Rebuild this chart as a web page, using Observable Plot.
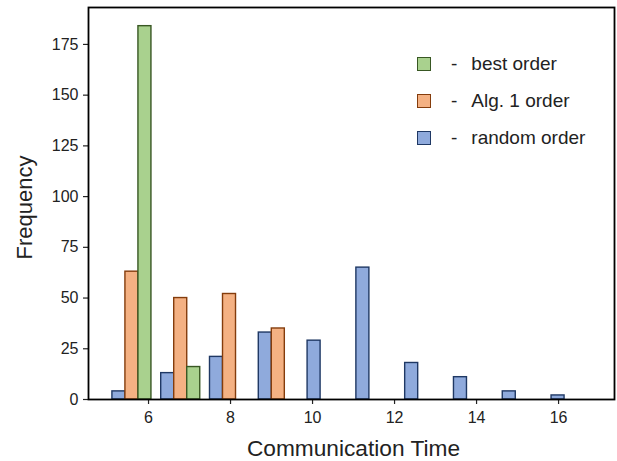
<!DOCTYPE html>
<html>
<head>
<meta charset="utf-8">
<script src="https://cdn.jsdelivr.net/npm/d3@7"></script>
<script src="https://cdn.jsdelivr.net/npm/@observablehq/plot@0.6"></script>
<style>
  html, body { margin: 0; padding: 0; background: #fff; }
  #wrap { position: relative; width: 617px; height: 461px; font-family: "Liberation Sans", Arial, sans-serif; }
  #legend { position: absolute; left: 417px; top: 45px; font-size: 19px; color: #222; }
  .row { display: flex; align-items: center; height: 37px; }
  .sw { width: 14px; height: 14px; border: 1.4px solid; box-sizing: border-box; margin-right: 20px; }
  .dash { margin-right: 14px; }
</style>
</head>
<body>
<div id="wrap"></div>
<script>
// Histogram bin edges (Communication Time)
const binEdges = [5.0, 6.19, 7.38, 8.57, 9.76, 10.95, 12.14, 13.33, 14.52, 15.71, 16.9];
// Frequencies per bin, one array per series (drawn in this order inside each bin)
const randomOrder = [4, 13, 21, 33, 29, 65, 18, 11, 4, 2];
const alg1Order   = [63, 50, 52, 35, 0, 0, 0, 0, 0, 0];
const bestOrder   = [184, 16, 0, 0, 0, 0, 0, 0, 0, 0];
const seriesNames = ["random order", "Alg. 1 order", "best order"];
const fills   = ["#8faadc", "#f4b183", "#a9d18e"];
const strokes = ["#1f3864", "#843c0c", "#385723"];
const xTicks = [6, 8, 10, 12, 14, 16];
const yTicks = [0, 25, 50, 75, 100, 125, 150, 175];

const seriesValues = [randomOrder, alg1Order, bestOrder];
const rows = [];
seriesValues.forEach((vals, k) => {
  vals.forEach((v, i) => {
    if (v <= 0) return;
    const lo = binEdges[i], bw = binEdges[i + 1] - binEdges[i];
    const w = bw * 0.8 / 3;
    const x1 = lo + bw * 0.1 + w * k;
    rows.push({series: seriesNames[k], k, x1, x2: x1 + w, count: v});
  });
});

const span = (binEdges[binEdges.length - 1] - binEdges[0]) - 0.2 * (binEdges[1] - binEdges[0]);
const left = binEdges[0] + 0.1 * (binEdges[1] - binEdges[0]);
const xDomain = [left - 0.05 * span, left + span + 0.05 * span];
const yMax = d3.max(seriesValues.flat()) * 1.05;

const font = '"Liberation Sans", Arial, sans-serif';
const chart = Plot.plot({
  width: 617,
  height: 461,
  marginLeft: 88,
  marginRight: 3,
  marginTop: 7,
  marginBottom: 62,
  style: {fontFamily: font, background: "#fff", color: "#222"},
  x: {domain: xDomain},
  y: {domain: [0, yMax]},
  color: {domain: seriesNames, range: fills},
  marks: [
    Plot.rect(rows, {
      x1: "x1", x2: "x2", y1: 0, y2: "count",
      fill: "series",
      stroke: d => strokes[d.k],
      strokeWidth: 1.4,
      inset: 0
    }),
    Plot.axisX(xTicks, {tickSize: 5, tickPadding: 7, fontSize: 16, label: null, stroke: "#222", strokeWidth: 1.2}),
    Plot.axisY(yTicks, {tickSize: 5, tickPadding: 5, fontSize: 16, label: null, stroke: "#222", strokeWidth: 1.2}),
    Plot.frame({stroke: "#000", strokeWidth: 1.8}),
    Plot.text(["Communication Time"], {frameAnchor: "bottom", dx: 2, dy: 56, fontSize: 22.7, fill: "#222"}),
    Plot.text(["Frequency"], {frameAnchor: "left", textAnchor: "middle", dx: -64, dy: 4, rotate: -90, fontSize: 22, fill: "#222"})
  ]
});
const wrap = document.getElementById("wrap");
wrap.appendChild(chart);

// Legend (reverse order, as in the reference)
const legend = document.createElement("div");
legend.id = "legend";
[2, 1, 0].forEach(k => {
  const row = document.createElement("div");
  row.className = "row";
  const sw = document.createElement("div");
  sw.className = "sw";
  sw.style.background = fills[k];
  sw.style.borderColor = strokes[k];
  const dash = document.createElement("span");
  dash.className = "dash";
  dash.textContent = "-";
  const t = document.createElement("span");
  t.textContent = seriesNames[k];
  row.append(sw, dash, t);
  legend.appendChild(row);
});
wrap.appendChild(legend);
</script>
</body>
</html>
